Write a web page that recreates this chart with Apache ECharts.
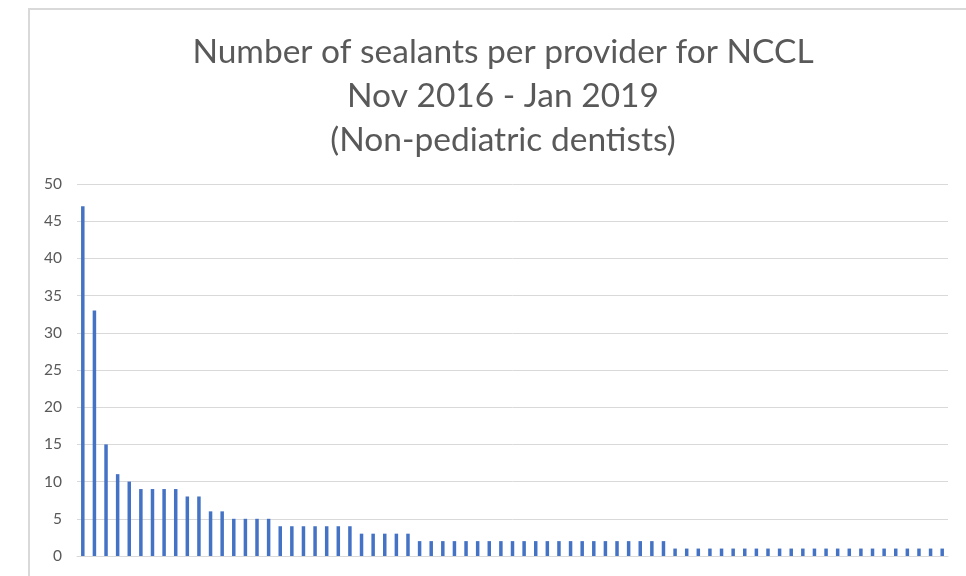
<!DOCTYPE html>
<html>
<head>
<meta charset="utf-8">
<script src="https://cdn.jsdelivr.net/npm/echarts@6/dist/echarts.min.js"></script>
<style>
	html, body { margin: 0; padding: 0; background: #fff; }
	#main { width: 966px; height: 576px; }
</style>
</head>
<body>
<div id="main"></div>
<script>
// providers sorted by number of sealants (75 providers)
var sealants = [
	47, 33, 15, 11, 10,
	9, 9, 9, 9,
	8, 8,
	6, 6,
	5, 5, 5, 5,
	4, 4, 4, 4, 4, 4, 4,
	3, 3, 3, 3, 3,
	2, 2, 2, 2, 2, 2, 2, 2, 2, 2, 2, 2, 2, 2, 2, 2, 2, 2, 2, 2, 2, 2,
	1, 1, 1, 1, 1, 1, 1, 1, 1, 1, 1, 1, 1, 1, 1, 1, 1, 1, 1, 1, 1, 1, 1, 1
];
var providers = [];
for (var i = 0; i < sealants.length; i++) {
	providers.push('P' + (i + 1));
}
var titleLines = ['Number of sealants per provider for NCCL', 'Nov 2016 - Jan 2019', '(Non-pediatric dentists)'];

var chart = echarts.init(document.getElementById('main'));
var option = {
	animation: false,
	backgroundColor: '#fff',
	title: {
		text: titleLines.join('\n'),
		left: 498,
		top: 25,
		textAlign: 'center',
		textStyle: {
			fontFamily: 'Lato',
			fontSize: 33.5,
			fontWeight: 'normal',
			color: '#595959',
			lineHeight: 44
		}
	},
	graphic: [{
		type: 'rect',
		shape: { x: 29, y: 9, width: 1000, height: 600 },
		style: { fill: 'none', stroke: '#d9d9d9', lineWidth: 2 },
		z: -1
	}],
	grid: {
		left: 77,
		right: 18,
		top: 184,
		bottom: 20
	},
	xAxis: {
		type: 'category',
		data: providers,
		axisLine: { lineStyle: { color: '#d9d9d9', width: 1 } },
		axisTick: { show: false },
		axisLabel: { show: false }
	},
	yAxis: {
		type: 'value',
		min: 0,
		max: 50,
		interval: 5,
		axisLine: { show: false },
		axisTick: { show: false },
		axisLabel: {
			margin: 15,
			color: '#595959',
			fontSize: 15.5,
			fontFamily: 'Lato'
		},
		splitLine: { lineStyle: { color: '#d9d9d9', width: 1 } }
	},
	series: [{
		type: 'bar',
		data: sealants,
		barWidth: 3.5,
		itemStyle: { color: '#4472c4' }
	}]
};
chart.setOption(option);
</script>
</body>
</html>
